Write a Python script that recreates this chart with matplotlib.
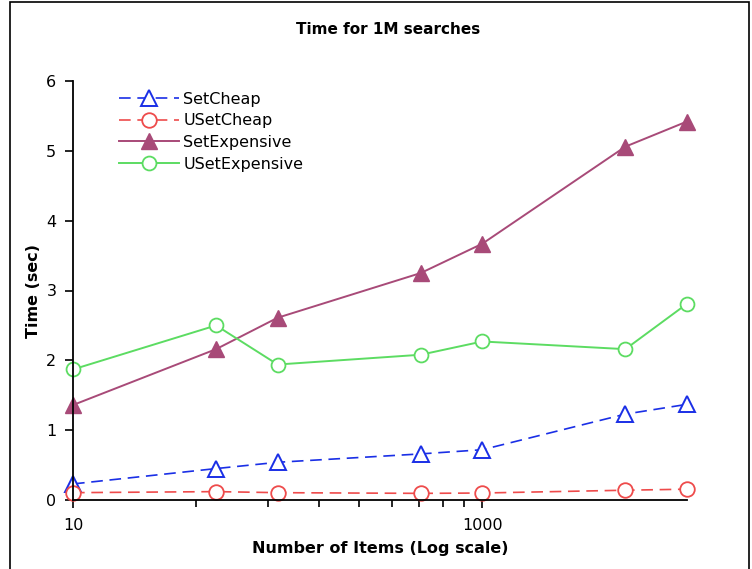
import matplotlib
matplotlib.use("Agg")
import matplotlib.pyplot as plt
from matplotlib.ticker import FixedLocator, NullFormatter, FixedFormatter
from matplotlib.patches import Rectangle

# data
items = [10, 50, 100, 500, 1000, 5000, 10000]
set_cheap = [0.23, 0.45, 0.54, 0.66, 0.72, 1.23, 1.37]
uset_cheap = [0.105, 0.12, 0.105, 0.095, 0.10, 0.14, 0.155]
set_expensive = [1.36, 2.16, 2.61, 3.25, 3.67, 5.06, 5.42]
uset_expensive = [1.87, 2.50, 1.94, 2.08, 2.27, 2.16, 2.81]

major_ticks = [10, 1000]
minor_ticks = [40, 90, 160, 250, 360, 490, 640, 810]

plt.rcParams['font.family'] = ['DejaVu Sans']
fs = 11.5

W, H = 752, 569
fig = plt.figure(figsize=(W / 100, H / 100), dpi=100)
fig.patches.append(Rectangle((10 / W, -0.05), (749 - 10) / W, 1.05 - 2 / H,
                             transform=fig.transFigure, fill=False,
                             edgecolor='black', linewidth=1.2))

ax = fig.add_axes([73 / W, 1 - 500 / H, (687 - 73) / W, (500 - 81) / H])

ax.plot(items, set_cheap, color='#1a2fe6', linestyle=(0, (7, 4)), linewidth=1.2,
        marker='^', markersize=11, markerfacecolor='white', markeredgewidth=1.4,
        label='SetCheap')
ax.plot(items, uset_cheap, color='#ee4b4b', linestyle=(0, (7, 4)), linewidth=1.2,
        marker='o', markersize=10.5, markerfacecolor='white', markeredgewidth=1.3,
        label='USetCheap')
ax.plot(items, set_expensive, color='#a84a78', linewidth=1.4,
        marker='^', markersize=11, markeredgewidth=1,
        label='SetExpensive')
ax.plot(items, uset_expensive, color='#5cdc62', linewidth=1.4,
        marker='o', markersize=10, markerfacecolor='white', markeredgewidth=1.3,
        label='USetExpensive')

ax.set_xscale('log')
ax.set_xlim(10, 10000)
ax.set_ylim(0, 6)
ax.xaxis.set_major_locator(FixedLocator(major_ticks))
ax.xaxis.set_major_formatter(FixedFormatter([str(t) for t in major_ticks]))
ax.xaxis.set_minor_locator(FixedLocator(minor_ticks))
ax.xaxis.set_minor_formatter(NullFormatter())
ax.set_yticks(range(0, 7))

for s in ['top', 'right']:
    ax.spines[s].set_visible(False)
for s in ['left', 'bottom']:
    ax.spines[s].set_linewidth(1.3)
ax.tick_params(axis='both', which='major', direction='out', length=6, width=1.2,
               labelsize=fs, colors='black')
ax.tick_params(axis='x', which='minor', direction='out', length=5, width=1.2)
ax.tick_params(axis='x', pad=7)
ax.tick_params(axis='y', pad=6)
for sp in ax.spines.values():
    sp.set_clip_on(False)
for line in ax.get_lines():
    line.set_clip_on(False)

ax.set_xlabel('Number of Items (Log scale)', fontsize=fs, fontweight='bold', labelpad=6)
ax.set_ylabel('Time (sec)', fontsize=fs, fontweight='bold', labelpad=4)
fig.text(388 / W, 1 - 29 / H, 'Time for 1M searches', ha='center', va='center',
         fontsize=11, fontweight='bold')

ax.legend(loc='upper left', bbox_to_anchor=(0.064, 0.99), frameon=False,
          fontsize=fs, handlelength=3.8, handletextpad=0.25, labelspacing=0.42,
          borderaxespad=0)

fig.savefig('out.png', dpi=100)
